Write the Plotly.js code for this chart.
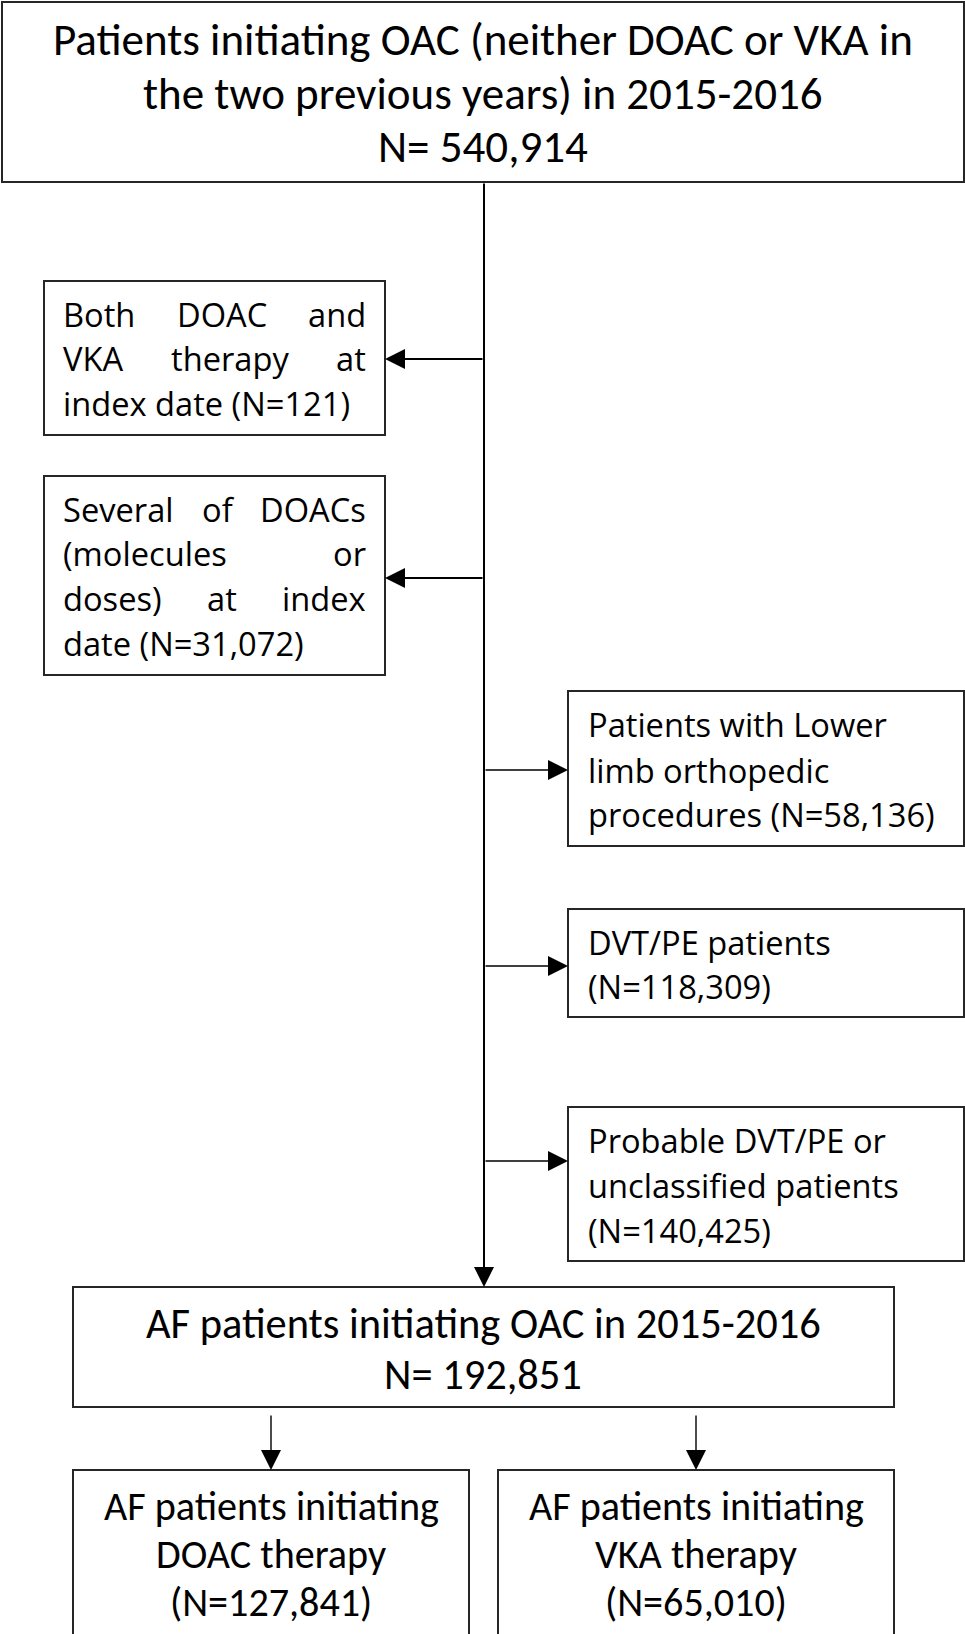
<!DOCTYPE html>
<html>
<head>
<meta charset="utf-8">
<script src="https://cdn.plot.ly/plotly-3.0.1.min.js"></script>
<style>html,body{margin:0;padding:0;background:#fff;}#chart{width:965px;height:1634px;}</style>
</head>
<body>
<div id="chart"></div>
<script>
// ---------------- data ----------------
const boxLines = [
  ["Patients initiating OAC (neither DOAC or VKA in", "the two previous years) in 2015-2016", "N= {N}"],
  ["Both DOAC and", "VKA therapy at", "index date (N={N})"],
  ["Several of DOACs", "(molecules or", "doses) at index", "date (N={N})"],
  ["Patients with Lower", "limb orthopedic", "procedures (N={N})"],
  ["DVT/PE patients", "(N={N})"],
  ["Probable DVT/PE or", "unclassified patients", "(N={N})"],
  ["AF patients initiating OAC in 2015-2016", "N= {N}"],
  ["AF patients initiating", "DOAC therapy", "(N={N})"],
  ["AF patients initiating", "VKA therapy", "(N={N})"]
];
const boxCounts = [540914, 121, 31072, 58136, 118309, 140425, 192851, 127841, 65010];

// ---------------- layout geometry (pixels) ----------------
const FONT_A = "Carlito, 'Liberation Sans Narrow', 'DejaVu Sans Condensed', 'Roboto Condensed', sans-serif";
const FONT_B = "'Open Sans', 'Noto Sans', sans-serif";
const geom = [
  {x0:2,  x1:964, y0:2,    y1:182,  ys:[39,93,146],               align:'center',  tx:483, grp:'top'},
  {x0:44, x1:385, y0:281,  y1:435,  ys:[314,358,403],             align:'justify', tx:63, tw:303, grp:'mid'},
  {x0:44, x1:385, y0:476,  y1:675,  ys:[509,553,598,643],         align:'justify', tx:63, tw:303, grp:'mid'},
  {x0:568,x1:964, y0:691,  y1:846,  ys:[724,770,814],             align:'left',    tx:588, grp:'mid'},
  {x0:568,x1:964, y0:909,  y1:1017, ys:[942,986],                 align:'left',    tx:588, grp:'mid'},
  {x0:568,x1:964, y0:1107, y1:1261, ys:[1140,1185,1230],          align:'left',    tx:588, grp:'mid'},
  {x0:73, x1:894, y0:1287, y1:1407, ys:[1323,1374],               align:'center',  tx:483, grp:'af'},
  {x0:73, x1:469, y0:1470, y1:1645, ys:[1506,1554,1602],          align:'center',  tx:271, grp:'bot'},
  {x0:498,x1:894, y0:1470, y1:1645, ys:[1506,1554,1602],          align:'center',  tx:696, grp:'bot'}
];
// [tailX, tailY, headX, headY, lineWidth]
const arrows = [
  [484,182,484,1287,2],
  [484,359,385,359,1.8],
  [484,578,385,578,1.8],
  [484,770,568,770,1.6],
  [484,966,568,966,1.6],
  [484,1161,568,1161,1.6],
  [271,1414,271,1470,1.4],
  [696,1414,696,1470,1.4]
];

// ---------------- font sizing from measured widths ----------------
const cv = document.createElement('canvas');
const ctx = cv.getContext('2d');
function measure(text, family, size){ ctx.font = size + 'px ' + family; return ctx.measureText(text).width; }
function fit(text, family, target){ return 100 * target / measure(text, family, 100); }
const sizes = {
  top: {fam: FONT_A, size: fit(boxLines[0][0], FONT_A, 860)},
  af:  {fam: FONT_A, size: fit(boxLines[6][0], FONT_A, 675)},
  bot: {fam: FONT_A, size: fit(boxLines[7][0], FONT_A, 335)},
  mid: {fam: FONT_B, size: fit(boxLines[3][0], FONT_B, 299)}
};

const fmt = n => n.toLocaleString('en-US');
const shapes = [];
const annotations = [];

geom.forEach((g, i) => {
  shapes.push({type:'rect', xref:'x', yref:'y', x0:g.x0, x1:g.x1, y0:g.y0, y1:g.y1,
               line:{color:'#262626', width:2}, fillcolor:'rgba(0,0,0,0)'});
  const f = sizes[g.grp];
  const font = {family: f.fam, size: f.size, color:'#000'};
  boxLines[i].forEach((tmpl, li) => {
    const txt = tmpl.replace('{N}', fmt(boxCounts[i]));
    const y = g.ys[li];
    const base = {xref:'x', yref:'y', y:y, yanchor:'middle', showarrow:false, font:font,
                  borderpad:0, borderwidth:0};
    const words = txt.split(' ');
    const isLast = li === boxLines[i].length - 1;
    if (g.align === 'justify' && !isLast && words.length > 1) {
      const ws = words.map(w => measure(w, f.fam, f.size));
      const total = ws.reduce((a,b)=>a+b,0);
      const gap = (g.tw - total) / (words.length - 1);
      let x = g.tx;
      words.forEach((w, wi) => {
        annotations.push(Object.assign({}, base, {x:x, xanchor:'left', text:w}));
        x += ws[wi] + gap;
      });
    } else if (g.align === 'center') {
      annotations.push(Object.assign({}, base, {x:g.tx, xanchor:'center', text:txt}));
    } else {
      annotations.push(Object.assign({}, base, {x:g.tx, xanchor:'left', text:txt}));
    }
  });
});

arrows.forEach(a => {
  annotations.push({xref:'x', yref:'y', axref:'x', ayref:'y', ax:a[0], ay:a[1], x:a[2], y:a[3],
    text:'', showarrow:true, arrowhead:2, arrowsize:20 / (5 * a[4]), arrowwidth:a[4],
    arrowcolor:'#000', standoff:0});
});

const layout = {
  width:965, height:1634,
  margin:{l:0, r:0, t:0, b:0},
  paper_bgcolor:'#fff', plot_bgcolor:'#fff',
  showlegend:false,
  xaxis:{range:[0,965], visible:false, fixedrange:true},
  yaxis:{range:[1634,0], visible:false, fixedrange:true},
  shapes: shapes,
  annotations: annotations
};
Plotly.newPlot('chart', [{type:'scatter', x:[], y:[], hoverinfo:'skip'}], layout, {staticPlot:true, displayModeBar:false});
</script>
</body>
</html>
